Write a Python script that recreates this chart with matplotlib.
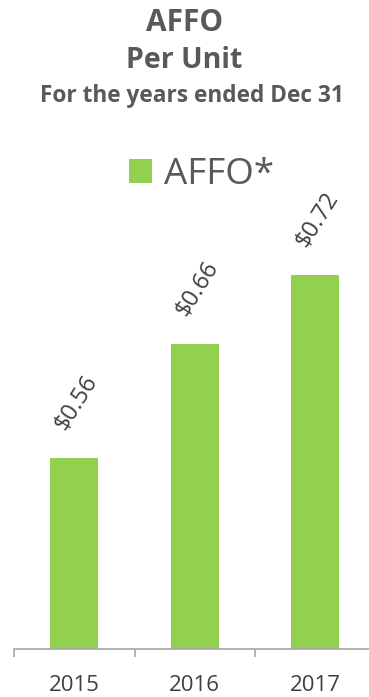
import matplotlib.pyplot as plt
import matplotlib as mpl

years = ['2015', '2016', '2017']
affo = [0.56, 0.66, 0.72]
bar_labels = ['$0.56', '$0.66', '$0.72']

plt.rcParams['font.family'] = ['Open Sans', 'DejaVu Sans']
green = '#92D050'
grey = '#595959'
dark = '#404040'

fig = plt.figure(figsize=(3.69, 6.97), dpi=100)
ax = fig.add_axes([14/369, 48/697, 361.5/369, 449/697])

x = range(len(years))
bars = ax.bar(x, affo, width=0.4, color=green, label='AFFO*', zorder=2)
ax.set_ylim(0.392, 0.786)
ax.set_xlim(-0.5, 2.5)

for xi, v, lab in zip(x, affo, bar_labels):
    ax.annotate(lab, (xi, v), xytext=(1.5, 40), textcoords='offset points',
                ha='center', va='center', rotation=58, fontsize=17, color=dark)

for s in ['top', 'right', 'left']:
    ax.spines[s].set_visible(False)
ax.spines['bottom'].set_color('#A6A6A6')
ax.spines['bottom'].set_linewidth(1.2)
ax.set_yticks([])
ax.set_xticks(list(x))
ax.set_xticklabels(years, fontsize=16, color=dark)
ax.tick_params(axis='x', which='major', length=0, pad=19)
ax.set_xticks([-0.5, 0.5, 1.5, 2.5], minor=True)
ax.tick_params(axis='x', which='minor', length=6, color='#A6A6A6', width=1.2)

fig.text(0.5, 1 - 23/697, 'AFFO', ha='center', va='center', fontsize=21.5,
         fontweight='bold', color=grey)
fig.text(0.5, 1 - 61/697, 'Per Unit', ha='center', va='center', fontsize=20.5,
         fontweight='bold', color=grey)
fig.text(0.52, 1 - 96/697, 'For the years ended Dec 31', ha='center', va='center',
         fontsize=16.3, fontweight='bold', color=grey)

fig.legend(handles=[bars], labels=['AFFO*'], loc='center',
           bbox_to_anchor=(0.545, 1 - 175/697), frameon=False, fontsize=26.5,
           handlelength=0.65, handleheight=0.65, handletextpad=0.3,
           labelcolor=grey)

plt.savefig('out.png', dpi=100)
